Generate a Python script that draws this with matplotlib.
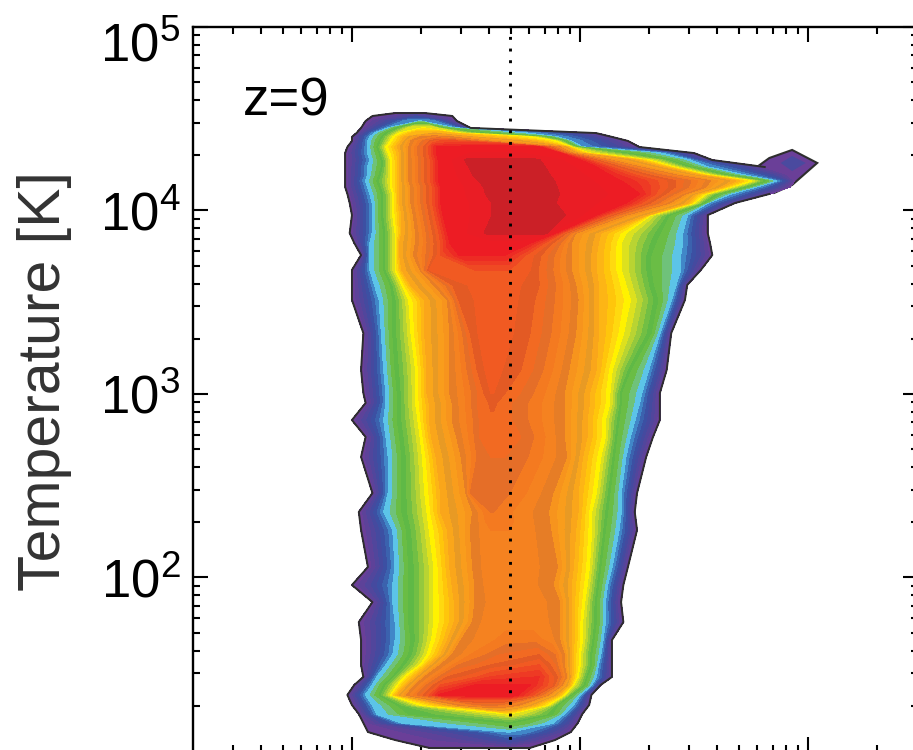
import numpy as np
import matplotlib
matplotlib.use("Agg")
import matplotlib.pyplot as plt
from matplotlib.transforms import ScaledTranslation

plt.rcParams['font.family'] = 'Liberation Sans'

# log10(T) of each digitised row
log_t = [4.531, 4.515, 4.488, 4.450, 4.422, 4.401, 4.379, 4.346, 4.313, 4.275,
         4.237, 4.193, 4.161, 4.128, 4.090, 4.041, 3.975, 3.877, 3.823, 3.757,
         3.676, 3.594, 3.512, 3.332, 3.131, 3.005, 2.951, 2.858, 2.766, 2.657,
         2.460, 2.357, 2.259, 2.057, 1.959, 1.866, 1.757, 1.659, 1.578, 1.523,
         1.458, 1.414, 1.360, 1.305, 1.256, 1.207, 1.158, 1.114, 1.071]

# log10(density) where each row crosses the contour levels, left to right
log_n = [
    [.19, .25, .25, .25, .25, .25, .25, .25, .25, .25, .25, .25, .25, .25, .25, .32],
    [.09, .28, .28, .28, .28, .28, .28, .28, .28, .28, .28, .28, .28, .28, .28, .44],
    [.06, .25, .30, .30, .30, .30, .30, .30, .30, .30, .30, .30, .30, .30, .34, .46],
    [.04, .16, .20, .26, .31, .31, .31, .31, .31, .31, .31, .31, .36, .39, .45, .52],
    [.02, .10, .15, .21, .28, .36, .36, .36, .36, .36, .36, .41, .46, .56, .76, 1.07],
    [.00, .08, .13, .18, .23, .30, .36, .36, .36, .36, .43, .53, .78, .85, .90, 1.14],
    [.00, .07, .12, .17, .22, .26, .34, .39, .43, .50, .58, .78, .89, .93, .96, 1.21],
    [-.02, .07, .11, .15, .20, .25, .37, .52, .69, .82, .91, .94, .96, .98, 1.01, 1.26],
    [-.03, .07, .12, .16, .21, .25, .37, .52, .74, .91, .96, .99, 1.04, 1.20, 1.35, 1.50],
    [-.03, .08, .13, .17, .21, .25, .38, .51, .79, 1.00, 1.13, 1.24, 1.30, 1.39, 1.48, 1.58],
    [-.03, .07, .13, .17, .21, .25, .38, .53, .80, 1.07, 1.26, 1.36, 1.41, 1.48, 1.56, 1.81],
    [-.03, .07, .12, .17, .21, .25, .38, .55, .81, 1.13, 1.42, 1.52, 1.56, 1.64, 1.72, 1.92],
    [-.03, .06, .11, .17, .21, .25, .38, .58, .82, 1.18, 1.57, 1.68, 1.75, 1.81, 1.86, 1.94],
    [-.03, .07, .12, .17, .21, .26, .39, .60, .82, 1.22, 1.55, 1.62, 1.66, 1.72, 1.77, 1.92],
    [-.02, .08, .13, .18, .21, .26, .39, .61, .82, 1.26, 1.46, 1.51, 1.55, 1.60, 1.66, 1.83],
    [-.01, .09, .13, .18, .21, .26, .39, .64, .82, 1.20, 1.39, 1.47, 1.50, 1.54, 1.56, 1.68],
    [.00, .09, .13, .18, .22, .27, .40, .64, .91, 1.07, 1.20, 1.29, 1.31, 1.39, 1.47, 1.56],
    [-.01, .09, .14, .19, .22, .28, .42, .60, .85, .89, .98, 1.09, 1.20, 1.35, 1.45, 1.56],
    [.01, .08, .14, .19, .21, .28, .43, .61, .69, .78, .96, 1.08, 1.18, 1.33, 1.45, 1.57],
    [.04, .08, .14, .19, .21, .27, .39, .47, .67, .76, .96, 1.07, 1.18, 1.31, 1.44, 1.58],
    [.00, .08, .14, .19, .22, .30, .34, .54, .69, .78, .96, 1.07, 1.18, 1.31, 1.44, 1.53],
    [.00, .10, .17, .22, .26, .36, .45, .56, .67, .80, .98, 1.08, 1.20, 1.32, 1.42, 1.47],
    [.00, .12, .18, .25, .32, .42, .47, .55, .71, .80, .99, 1.08, 1.22, 1.34, 1.40, 1.46],
    [.05, .13, .18, .26, .32, .43, .52, .56, .69, .78, .98, 1.08, 1.19, 1.31, 1.35, 1.40],
    [.04, .14, .19, .28, .33, .43, .55, .59, .64, .74, .95, 1.07, 1.14, 1.22, 1.30, 1.38],
    [.05, .15, .20, .28, .33, .43, .58, .61, .62, .67, .93, 1.04, 1.13, 1.18, 1.27, 1.35],
    [.06, .15, .20, .28, .34, .44, .55, .61, .62, .70, .93, 1.04, 1.13, 1.18, 1.26, 1.35],
    [.00, .14, .20, .29, .34, .44, .56, .61, .62, .70, .93, 1.03, 1.11, 1.17, 1.24, 1.35],
    [.06, .15, .21, .30, .35, .46, .56, .60, .65, .74, .93, 1.03, 1.11, 1.16, 1.22, 1.32],
    [.04, .16, .22, .31, .37, .48, .55, .61, .67, .77, .94, 1.01, 1.09, 1.15, 1.20, 1.29],
    [.09, .16, .22, .32, .39, .50, .52, .56, .63, .69, .88, .99, 1.07, 1.13, 1.18, 1.25],
    [.03, .14, .22, .33, .39, .53, .59, .61, .62, .65, .86, .99, 1.05, 1.12, 1.18, 1.24],
    [.04, .18, .24, .34, .42, .52, .58, .61, .69, .76, .87, .98, 1.05, 1.11, 1.17, 1.25],
    [.07, .19, .25, .36, .43, .53, .57, .63, .76, .82, .90, .97, 1.04, 1.09, 1.14, 1.21],
    [.00, .18, .25, .36, .44, .54, .58, .65, .74, .81, .88, .96, 1.03, 1.08, 1.12, 1.19],
    [.09, .18, .25, .36, .45, .54, .59, .67, .76, .85, .91, .96, 1.02, 1.07, 1.11, 1.18],
    [.03, .19, .25, .36, .45, .53, .57, .67, .78, .86, .91, .96, 1.01, 1.07, 1.11, 1.19],
    [.04, .19, .26, .35, .42, .48, .56, .69, .80, .87, .91, .96, 1.01, 1.06, 1.10, 1.14],
    [.04, .18, .25, .33, .39, .44, .52, .65, .82, .89, .93, .96, 1.00, 1.05, 1.09, 1.14],
    [.04, .15, .22, .30, .34, .39, .47, .61, .82, .89, .93, .96, 1.00, 1.05, 1.08, 1.14],
    [.05, .11, .18, .23, .28, .32, .42, .61, .82, .90, .94, .96, .99, 1.03, 1.07, 1.14],
    [.01, .09, .14, .20, .24, .28, .39, .54, .78, .88, .92, .95, .97, 1.02, 1.05, 1.09],
    [-.02, .06, .12, .17, .20, .24, .38, .52, .71, .79, .86, .90, .93, .96, 1.00, 1.05],
    [.00, .09, .20, .30, .41, .47, .54, .58, .63, .67, .73, .80, .86, .90, .97, 1.04],
    [.03, .11, .25, .67, .69, .69, .69, .69, .69, .69, .69, .69, .71, .88, .93, 1.01],
    [.05, .22, .67, .69, .69, .69, .69, .69, .69, .69, .69, .69, .69, .71, .88, .99],
    [.07, .67, .69, .69, .69, .69, .69, .69, .69, .69, .69, .69, .69, .69, .74, .96],
    [.19, .69, .69, .69, .69, .69, .69, .69, .69, .69, .69, .69, .69, .69, .69, .89],
    [.34, .69, .69, .69, .69, .69, .69, .69, .69, .69, .69, .69, .69, .69, .69, .78],
]

# contour level on the four middle columns of each row
inner_levels = [
    [0, 0, 0, 0], [3, 3, 3, 3], [7, 7, 7, 7], [15, 15, 15, 15], [19, 19, 19, 19],
    [24, 24, 24, 24], [28, 30, 30, 28], [33, 33.5, 33.5, 33], [33, 34, 34, 33],
    [33, 35.3, 35.3, 33], [33, 35.3, 35.3, 33], [33, 35.3, 35.3, 33], [33, 35.3, 35.3, 33],
    [33, 35.3, 35.3, 33], [33, 35.3, 35.3, 33], [33, 35.3, 35.3, 33], [33, 35.3, 35.3, 33],
    [33, 35.3, 35.3, 33], [33, 33.5, 33.5, 33], [30, 33, 33, 30], [29, 30, 30, 29],
    [28.5, 29.5, 29.5, 28.5], [28, 29.2, 29.2, 28], [28, 29.2, 29.2, 28], [28, 29.2, 29.2, 28],
    [28, 29, 29, 28], [27, 28.2, 28.2, 27], [27, 27.8, 27.8, 27], [27, 27.4, 27.4, 27],
    [26, 27, 27, 26], [26, 26.8, 26.8, 26], [25.5, 26, 26, 25.5], [24.5, 25, 25, 24.5],
    [24, 24.5, 24.5, 24], [24, 24.5, 24.5, 24], [24, 24.5, 24.5, 24], [24, 24.5, 24.5, 24],
    [24.5, 25.5, 25.5, 24.5], [25, 27, 28, 26], [26, 28, 30, 27], [28, 31, 32, 28],
    [30, 33, 33, 29], [33, 33.8, 33.8, 30], [25, 26, 26, 25], [15, 15, 15, 15],
    [10, 10, 10, 10], [7, 7, 7, 7], [4, 4, 4, 4], [0, 0, 0, 0],
]
left_levels = [0, 7, 10, 15, 19, 23]

# small detached clump at the end of the hot tail
clump_log_n = [1.77, 1.83, 1.93, 2.04, 1.93, 1.85, 1.77]
clump_log_t = [4.232, 4.286, 4.330, 4.259, 4.139, 4.095, 4.112]
core_log_n = [1.93, 1.99, 1.93, 1.88]
core_log_t = [4.297, 4.259, 4.215, 4.259]

mean_log_n = 0.693
yticks = [1e2, 1e3, 1e4, 1e5]

band_colors = ['#6a3f98', '#5d4299', '#51469c', '#454a9f', '#3c50a3', '#3b62ae',
               '#4187c8', '#5cc4e8', '#6fc27a', '#6abd45', '#5fb946', '#72bf44',
               '#95c93d', '#b9d432', '#dde11e', '#fff200', '#ffd90f', '#ffc60b',
               '#fdb515', '#faa61a', '#e89a24', '#f99d1c', '#f7941d', '#e67d26',
               '#f58220', '#f47a20', '#e56e28', '#f26a22', '#e35a24', '#f15a22',
               '#ef4923', '#ee3a24', '#ed2b24', '#ed1c24', '#ea1d25', '#cb2027']

X = 10 ** np.array(log_n)
Y = 10 ** np.repeat(np.array(log_t)[:, None], X.shape[1], axis=1)
Z = []
for inner in inner_levels:
    row = left_levels + inner + left_levels[::-1]
    Z.append(np.minimum(row, max(inner)))
Z = np.array(Z)

fig = plt.figure(figsize=(9.13, 7.5), dpi=100)
ax = fig.add_axes([193 / 913, -2 / 750, 725 / 913, 725 / 750])
ax.set_xscale('log')
ax.set_yscale('log')

ax.fill(10 ** np.array(clump_log_n), 10 ** np.array(clump_log_t), fc='#6a3f98',
        ec='#2e2e2e', lw=1.5, zorder=2)
ax.fill(10 ** np.array(core_log_n), 10 ** np.array(core_log_t), fc='#4a4a9f', lw=0, zorder=2)

cs = ax.contourf(X, Y, Z, levels=np.arange(0, 37), colors=band_colors, zorder=3)
cs.set_edgecolor('face')
cs.set_linewidth(0.4)

# outline skips the rows where the tail runs into the clump
ax.plot(np.r_[X[10::-1, -1], X[:, 0], X[:13:-1, -1]],
        np.r_[Y[10::-1, -1], Y[:, 0], Y[:13:-1, -1]],
        color='#2e2e2e', lw=1.4, zorder=4)

ax.axvline(10 ** mean_log_n, color='black', lw=2.1, ls=(0, (1, 3)), zorder=5)

ax.set_xlim(10 ** -0.697, 10 ** 2.482)
ax.set_ylim(10 ** 1.049, 1e5)
ax.set_yticks(yticks)
ax.tick_params(which='major', direction='in', top=True, right=True, length=10.5, width=1.5,
               labelsize=38, labelbottom=False, pad=9)
ax.tick_params(which='minor', direction='in', top=True, right=True, length=5, width=1.5)
ax.xaxis.set_minor_locator(matplotlib.ticker.LogLocator(subs=range(2, 10), numticks=20))
ax.yaxis.set_minor_locator(matplotlib.ticker.LogLocator(subs=range(2, 10), numticks=20))
ax.xaxis.set_minor_formatter(matplotlib.ticker.NullFormatter())
ax.yaxis.set_minor_formatter(matplotlib.ticker.NullFormatter())
for spine in ax.spines.values():
    spine.set_linewidth(1.7)

# top label sits lower than its tick, like the original
fig.canvas.draw()
top_label = ax.get_yticklabels()[-1]
top_label.set_transform(top_label.get_transform() + ScaledTranslation(0, -15 / 100, fig.dpi_scale_trans))

ax.text(50 / 725, 637 / 725, 'z=9', transform=ax.transAxes, fontsize=38, color='black')
fig.text(44 / 913, 1 - 381 / 750, 'Temperature [K]', rotation=90, fontsize=42.5,
         ha='center', va='center', color='#333333')

fig.savefig('out.png', dpi=100)
